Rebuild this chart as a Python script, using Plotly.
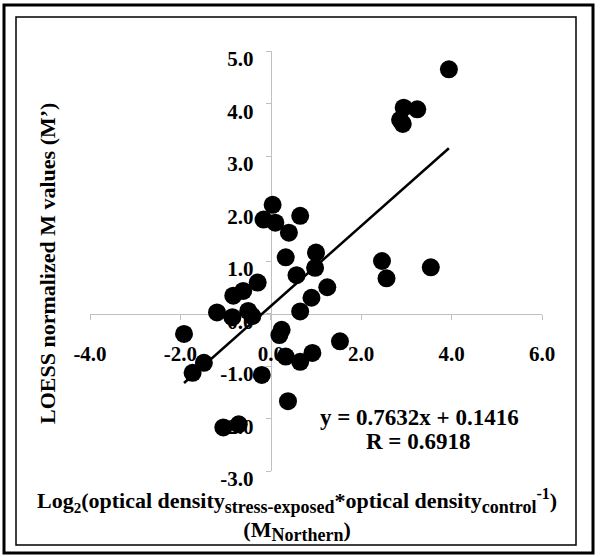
import plotly.graph_objects as go

# ---- data ----
m_northern = [3.94, 2.94, 3.24, 2.86, 2.92, 0.04, -0.16, 0.10, 0.65, 0.40,
              0.33, 1.00, 0.98, 0.57, 2.46, 2.56, 3.54, -0.29, -0.61, -0.83,
              1.25, 0.90, -1.19, -0.85, -0.50, -0.41, 0.65, 0.24, 0.19, -1.92,
              1.53, -1.48, -1.73, 0.33, 0.65, 0.92, -0.20, 0.38, -1.05, -0.71]
m_loess = [4.65, 3.92, 3.89, 3.69, 3.61, 2.07, 1.79, 1.73, 1.86, 1.54,
           1.07, 1.16, 0.87, 0.73, 1.00, 0.67, 0.88, 0.59, 0.43, 0.34,
           0.50, 0.30, 0.02, -0.07, 0.05, -0.05, 0.04, -0.31, -0.41, -0.39,
           -0.53, -0.94, -1.13, -0.82, -0.92, -0.75, -1.17, -1.67, -2.17, -2.11]
slope = 0.7632
intercept = 0.1416
r_value = 0.6918

x_ticks = [-4, -2, 0, 2, 4, 6]
x_tick_labels = ["-4.0", "-2.0", "0.0", "2.0", "4.0", "6.0"]
y_ticks = [-3, -2, -1, 0, 1, 2, 3, 4, 5]
y_tick_labels = ["-3.0", "-2.0", "-1.0", "0.0", "1.0", "2.0", "3.0", "4.0", "5.0"]

FONT = "Liberation Serif"


def bold(s):
    return "<b>" + s + "</b>"


def sub(s, size=18):
    return '<sub><span style="font-size:%dpx">%s</span></sub>' % (size, s)


def sup(s, size=16):
    return '<sup><span style="font-size:%dpx">%s</span></sup>' % (size, s)


x_line = [min(m_northern), max(m_northern)]
y_line = [slope * v + intercept for v in x_line]

fig = go.Figure()
fig.add_trace(go.Scatter(x=m_northern, y=m_loess, mode="markers",
                         marker=dict(size=18, color="black", line=dict(width=0)),
                         showlegend=False, hoverinfo="skip"))
fig.add_trace(go.Scatter(x=x_line, y=y_line, mode="lines",
                         line=dict(color="black", width=2.5),
                         showlegend=False, hoverinfo="skip"))

fig.update_layout(
    width=600, height=557,
    margin=dict(l=90, r=58, t=51, b=86),
    paper_bgcolor="white", plot_bgcolor="white",
    font=dict(family=FONT, color="black"),
    xaxis=dict(range=[-4, 6], anchor="free", position=0.375,
               showgrid=False, zeroline=False, showline=True,
               linecolor="#c0c0c0", linewidth=1,
               ticks="outside", ticklen=5, tickcolor="#c0c0c0",
               tickvals=x_ticks, ticktext=[bold(t) for t in x_tick_labels],
               tickfont=dict(family=FONT, size=21, color="black"),
               ticklabelstandoff=16, layer="below traces"),
    yaxis=dict(range=[-3, 5], anchor="free", position=0.4,
               showgrid=False, zeroline=False, showline=True,
               linecolor="#c0c0c0", linewidth=1,
               ticks="outside", ticklen=5, tickcolor="#c0c0c0",
               tickvals=y_ticks, ticktext=[bold(t) for t in y_tick_labels],
               tickfont=dict(family=FONT, size=21, color="black"),
               ticklabelstandoff=8, ticklabelshift=8, layer="below traces"),
)


def px_to_paper_x(p):
    return (p - 90) / 452


def px_to_paper_y(p):
    return (471 - p) / 420


fig.add_annotation(xref="paper", yref="paper", x=px_to_paper_x(47), y=px_to_paper_y(264),
                   text=bold("LOESS normalized M values (M’)"), textangle=-90,
                   showarrow=False, font=dict(family=FONT, size=22, color="black"),
                   xanchor="center", yanchor="middle")
x_title = ("Log" + sub("2", 15) + "(optical density" + sub("stress-exposed")
           + "*optical density" + sub("control") + sup("-1") + ")"
           + "<br>(M" + sub("Northern") + ")")
fig.add_annotation(xref="paper", yref="paper", x=px_to_paper_x(297), y=px_to_paper_y(515),
                   text=bold(x_title), align="center",
                   showarrow=False, font=dict(family=FONT, size=22, color="black"),
                   xanchor="center", yanchor="middle")
fig.add_annotation(xref="paper", yref="paper", x=px_to_paper_x(419), y=px_to_paper_y(417),
                   text=bold(f"y = {slope}x + {intercept}"),
                   showarrow=False, font=dict(family=FONT, size=23, color="black"),
                   xanchor="center", yanchor="middle")
fig.add_annotation(xref="paper", yref="paper", x=px_to_paper_x(418), y=px_to_paper_y(441),
                   text=bold(f"R = {r_value}"),
                   showarrow=False, font=dict(family=FONT, size=23, color="black"),
                   xanchor="center", yanchor="middle")

fig.add_shape(type="rect", xref="paper", yref="paper",
              x0=px_to_paper_x(4), x1=px_to_paper_x(593),
              y0=px_to_paper_y(553), y1=px_to_paper_y(5),
              line=dict(color="black", width=3), fillcolor="rgba(0,0,0,0)")
fig.add_shape(type="rect", xref="paper", yref="paper",
              x0=px_to_paper_x(16), x1=px_to_paper_x(576),
              y0=px_to_paper_y(545), y1=px_to_paper_y(17),
              line=dict(color="black", width=1.5), fillcolor="rgba(0,0,0,0)")

fig.write_html("out.html", config={"displayModeBar": False},
               post_script="document.body.style.margin='0';document.body.style.overflow='hidden';")
